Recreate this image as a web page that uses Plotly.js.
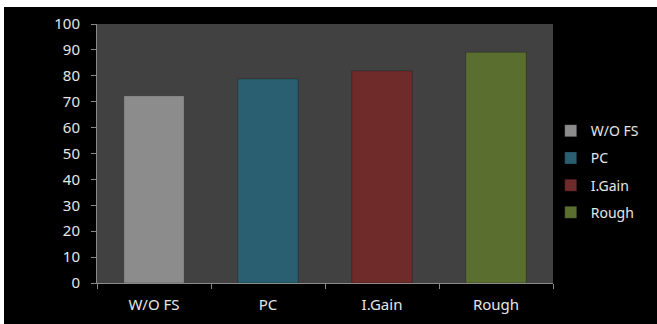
<!DOCTYPE html>
<html>
<head>
<meta charset="utf-8">
<script src="https://cdn.plot.ly/plotly-3.0.1.min.js"></script>
<style>
html,body{margin:0;padding:0;background:#ffffff;width:657px;height:324px;overflow:hidden;}
#chart{position:absolute;left:4px;top:7px;width:653px;height:317px;}
</style>
</head>
<body>
<div id="chart"></div>
<script>
var categories = ["W/O FS", "PC", "I.Gain", "Rough"];
var values = [72.3, 78.8, 81.9, 89.1];
var colors = ["#8c8c8c", "#2a5f72", "#6f2b2a", "#5a6e2f"];
var yTicks = [0, 10, 20, 30, 40, 50, 60, 70, 80, 90, 100];

var traces = categories.map(function (c, i) {
  return {
    type: "bar",
    name: c,
    x: [c],
    y: [values[i]],
    width: 0.53,
    legendgroup: "g" + i,
    marker: { color: colors[i], line: { color: "rgba(0,0,0,0.25)", width: 1 } },
    hoverinfo: "x+y"
  };
});

var layout = {
  width: 653,
  height: 317,
  margin: { l: 93, r: 102, t: 17, b: 41 },
  paper_bgcolor: "#000000",
  plot_bgcolor: "#414141",
  barmode: "overlay",
  showlegend: true,
  font: { family: "Noto Sans, sans-serif", size: 15, color: "#e6e6e6" },
  xaxis: {
    type: "category",
    categoryorder: "array",
    categoryarray: categories,
    showgrid: false,
    showline: true,
    linecolor: "#8a8a8a",
    linewidth: 1,
    ticks: "outside",
    tickson: "boundaries",
    ticklen: 5,
    tickcolor: "#8a8a8a",
    ticklabelstandoff: 8,
    tickfont: { size: 15, color: "#e6e6e6" },
    zeroline: false
  },
  yaxis: {
    range: [0, 100],
    tickvals: yTicks,
    ticktext: yTicks.map(String),
    showgrid: false,
    showline: true,
    linecolor: "#8a8a8a",
    linewidth: 1,
    ticks: "outside",
    ticklen: 5,
    tickcolor: "#8a8a8a",
    ticklabelstandoff: 8,
    tickfont: { size: 15, color: "#e6e6e6" },
    zeroline: false
  },
  legend: {
    x: 0.995,
    xanchor: "left",
    y: 0.43,
    yanchor: "middle",
    bgcolor: "rgba(0,0,0,0)",
    font: { size: 14, color: "#e6e6e6" },
    tracegroupgap: 6,
    traceorder: "grouped"
  }
};

Plotly.newPlot("chart", traces, layout, { displayModeBar: false, staticPlot: true });
</script>
</body>
</html>
